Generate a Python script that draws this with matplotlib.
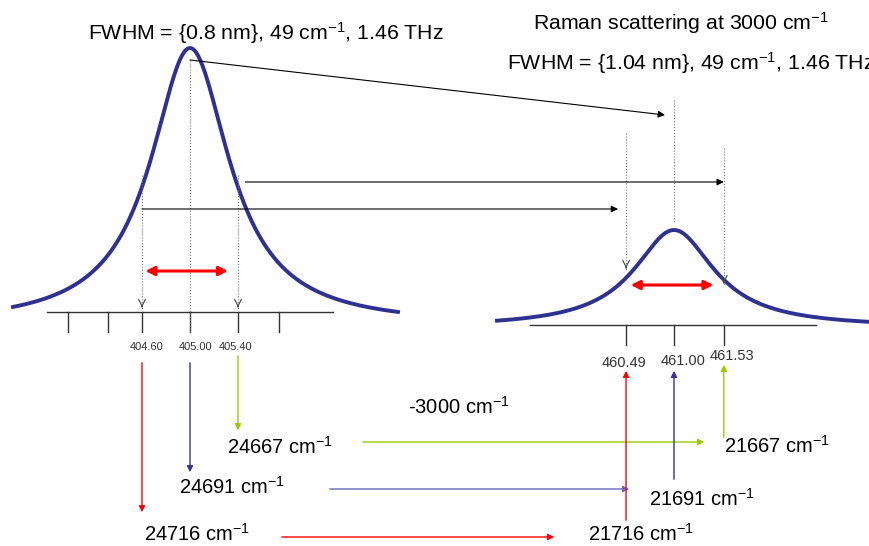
import numpy as np
import matplotlib.pyplot as plt
from matplotlib.patches import ConnectionPatch

plt.rcParams['font.family'] = ['Liberation Sans', 'DejaVu Sans']
plt.rcParams['mathtext.fontset'] = 'custom'
plt.rcParams['mathtext.rm'] = 'Liberation Sans'
plt.rcParams['mathtext.it'] = 'Liberation Sans:italic'
plt.rcParams['mathtext.bf'] = 'Liberation Sans:bold'

# --- data ---
exc_center = 405.00
exc_fwhm = 0.8
exc_nm = [404.60, 405.00, 405.40]
exc_ticks = [403.98, 404.32, 404.60, 405.00, 405.40, 405.74]
exc_wn = [24716, 24691, 24667]

ram_center = 461.00
ram_fwhm = 1.04
ram_nm = [460.49, 461.00, 461.53]
ram_wn = [21716, 21691, 21667]
shift = 3000

cols = ['#ff0000', '#333399', '#99cc00']
curve_col = '#2e3192'
W, H = 870, 546


def lorentz(x, c, fwhm):
    return 1.0 / (1.0 + ((x - c) / (fwhm / 2)) ** 2)


fig = plt.figure(figsize=(8.7, 5.46), dpi=100)
# overlay in pixel units for the text layout
axO = fig.add_axes([0, 0, 1, 1])
axO.set_xlim(0, W)
axO.set_ylim(H, 0)
# left panel: x in nm (120 px per nm)
axL = fig.add_axes([0, 0, 1, 1])
axL.set_xlim(exc_center - 190 / 120, exc_center + 680 / 120)
axL.set_ylim(H, 0)
# right panel: x in nm (94 px per nm)
axR = fig.add_axes([0, 0, 1, 1])
axR.set_xlim(ram_center - 674 / 94, ram_center + 196 / 94)
axR.set_ylim(H, 0)
for a in (axO, axL, axR):
    a.axis('off')
    a.patch.set_alpha(0)

# curves
xl = np.linspace(exc_center - 177 / 120, exc_center + 208 / 120, 400)
axL.plot(xl, 326 - 278 * lorentz(xl, exc_center, exc_fwhm), color=curve_col, lw=2.8)
xr = np.linspace(ram_center - 177 / 94, ram_center + 200 / 94, 400)
axR.plot(xr, 327.6 - 97.6 * lorentz(xr, ram_center, ram_fwhm), color=curve_col, lw=2.8)

# axis lines and ticks
axL.plot([exc_center - 143 / 120, exc_center + 143 / 120], [312, 312], color='#333333', lw=1)
for t in exc_ticks:
    axL.plot([t, t], [312, 332], color='#333333', lw=1)
axR.plot([ram_center - 144 / 94, ram_center + 142 / 94], [325, 325], color='#333333', lw=1)
for t in ram_nm:
    axR.plot([t, t], [325, 345], color='#333333', lw=1)

for t, dx in zip(exc_nm, [0.04, 0.05, -0.017]):
    axL.text(t + dx, 347, f'{t:.2f}', fontsize=8, ha='center', va='center', color='#333333')
for t, y, dx in zip(ram_nm, [363, 361, 356], [-0.02, 0.1, 0.09]):
    axR.text(t + dx, y, f'{t:.2f}', fontsize=10.5, ha='center', va='center', color='#333333')

# dotted guide lines
dot = dict(color='#777777', lw=0.8, ls=':')
axL.plot([exc_nm[0]] * 2, [175, 310], **dot)
axL.plot([exc_nm[1]] * 2, [60, 332], **dot)
axL.plot([exc_nm[2]] * 2, [175, 310], **dot)
axR.plot([ram_nm[0]] * 2, [133, 270], **dot)
axR.plot([ram_nm[1]] * 2, [100, 223], **dot)
axR.plot([ram_nm[2]] * 2, [148, 285], **dot)
for ax, x, y in [(axL, exc_nm[0], 310), (axL, exc_nm[2], 310),
                 (axR, ram_nm[0], 271), (axR, ram_nm[2], 286)]:
    ax.annotate('', xy=(x, y), xytext=(x, y - 6),
                arrowprops=dict(arrowstyle='->', color='#444444', lw=0.8, mutation_scale=12))

# FWHM double arrows
axL.annotate('', xy=(exc_nm[0] + 0.005, 271), xytext=(exc_nm[2] - 0.06, 271),
             arrowprops=dict(arrowstyle='<|-|>', color='red', lw=2.2, mutation_scale=13))
axR.annotate('', xy=(ram_nm[0] + 0.02, 285), xytext=(ram_nm[2] - 0.08, 285),
             arrowprops=dict(arrowstyle='<|-|>', color='red', lw=2.2, mutation_scale=13))

# black arrows from the excitation line to the Raman line
blk = dict(arrowstyle='-|>', color='black', lw=0.8, mutation_scale=10)
for (xa, ya), (xb, yb) in [((exc_nm[1], 60), (ram_nm[1] - 0.096, 115)),
                           ((exc_nm[2] + 0.06, 182), (ram_nm[2], 182)),
                           ((exc_nm[0], 209), (ram_nm[0] - 0.085, 209))]:
    cp = ConnectionPatch(xyA=(xa, ya), coordsA=axL.transData,
                         xyB=(xb, yb), coordsB=axR.transData, **blk)
    fig.add_artist(cp)

# coloured arrows: wavelength -> wavenumber
down = [(360, 515), (360, 475), (353, 433)]
up = [(523, 368), (482, 368), (440, 362)]
for i in range(3):
    axL.annotate('', xy=(exc_nm[i], down[i][1]), xytext=(exc_nm[i], down[i][0]),
                 arrowprops=dict(arrowstyle='-|>', color=cols[i], lw=1, mutation_scale=9))
    axR.annotate('', xy=(ram_nm[i], up[i][1]), xytext=(ram_nm[i], up[i][0]),
                 arrowprops=dict(arrowstyle='-|>', color=cols[i], lw=1, mutation_scale=9))

hcols = ['#ff0000', '#6666bb', '#99cc00']
hor = [(279, 557, 537), (327, 632, 489), (360, 707, 442)]
for i, (x0, x1, y) in enumerate(hor):
    axO.annotate('', xy=(x1, y), xytext=(x0, y),
                 arrowprops=dict(arrowstyle='-|>', color=hcols[i], lw=1, mutation_scale=9))

fs = 14.5
left_pos = [(144, 534), (179, 487), (227, 447)]
right_pos = [(588, 534), (649, 499), (724, 446)]
for i in range(3):
    axO.text(*left_pos[i], f'{exc_wn[i]} cm$^{{-1}}$', fontsize=fs, ha='left', va='center')
    axO.text(*right_pos[i], f'{ram_wn[i]} cm$^{{-1}}$', fontsize=fs, ha='left', va='center')
axO.text(408, 407, f'-{shift} cm$^{{-1}}$', fontsize=fs, ha='left', va='center')

# titles
tfs = 15.3
axO.text(88, 33, 'FWHM = {%s nm}, %d cm$^{-1}$, 1.46 THz' % (exc_fwhm, 49),
         fontsize=tfs, ha='left', va='center')
axO.text(533, 23, f'Raman scattering at {shift} cm$^{{-1}}$', fontsize=tfs, ha='left', va='center')
axO.text(507, 63, 'FWHM = {%.2f nm}, %d cm$^{-1}$, 1.46 THz' % (ram_fwhm, 49),
         fontsize=tfs, ha='left', va='center')

fig.savefig('out.png', dpi=100)
